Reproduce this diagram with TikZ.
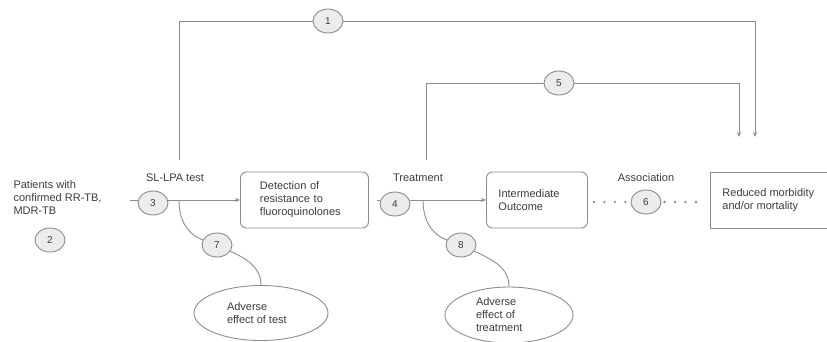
\documentclass[tikz,border=0pt]{standalone}
\usepackage{fontspec}
\setmainfont{Liberation Sans}
\usetikzlibrary{shapes.geometric,arrows.meta}
\definecolor{ln}{HTML}{8C8C8C}
\definecolor{tx}{HTML}{3C3C3C}
\definecolor{cf}{HTML}{ECECEC}
\begin{document}
\begin{tikzpicture}[x=1pt,y=-1pt,
  every node/.style={text=tx, font=\fontsize{11}{13}\selectfont},
  num/.style={ellipse, draw=ln, fill=cf, line width=0.9pt, minimum width=30pt, minimum height=24pt, inner sep=0pt, font=\fontsize{10}{12}\selectfont},
  box/.style={draw=ln, line width=0.9pt, minimum height=56pt, align=left, anchor=west, inner sep=0pt},
  oval/.style={ellipse, draw=ln, line width=0.9pt, align=left, inner sep=0pt},
  lbl/.style={align=left},
  con/.style={draw=ln, line width=0.9pt},
  arr/.style={con, -{Stealth[length=5pt,width=4pt]}},
  dots/.style={draw=ln, line width=2.6pt, line cap=round, dash pattern=on 0pt off 10.5pt}
]
\useasboundingbox (0,0) rectangle (827,341);

% main row
\node[lbl, anchor=west] (pat) at (10,198) {Patients with\\confirmed RR-TB,\\MDR-TB};
\node[num] (c2) at (50,240) {2};
\node[num] (c3) at (153,203) {3};
\node[lbl] (sl) at (175,178) {SL-LPA test};
\node[box, rounded corners=6pt, minimum width=128pt, text width=115pt] (det) at (240,200) {\hspace*{13pt}\parbox{110pt}{Detection of\\resistance to\\fluoroquinolones}};
\node[num] (c4) at (395,204) {4};
\node[lbl] (tr) at (418,178) {Treatment};
\node[box, rounded corners=6pt, minimum width=101pt] (int) at (486,200) {\hspace*{11pt}\parbox{88pt}{Intermediate\\Outcome}};
\node[num] (c6) at (646,202) {6};
\node[lbl] (as) at (646,178) {Association};
\node[box, minimum width=125pt] (red) at (710,200) {\hspace*{9pt}\parbox{110pt}{Reduced morbidity\\and/or mortality}};

% top circles
\node[num] (c1) at (328,21) {1};
\node[num] (c5) at (559,83) {5};

% adverse
\node[num] (c7) at (217,245) {7};
\node[num] (c8) at (461,245) {8};
\node[oval, minimum width=134pt, minimum height=55pt] (e1) at (261,313) {\parbox{68pt}{Adverse\\effect of test}};
\node[oval, minimum width=128pt, minimum height=56pt] (e2) at (509,315) {\parbox{66pt}{Adverse\\effect of\\treatment}};

% coordinates
\coordinate (in3) at (130,200);
\coordinate (in4) at (377,200);
\coordinate (s1) at (179,160);
\coordinate (s5) at (426,160);
\coordinate (t1) at (755,137);
\coordinate (t5) at (739,137);
\coordinate (j3) at (179,200);
\coordinate (j4) at (423,200);

% connectors
\draw[con] (in3) -- (c3.west |- in3);
\draw[arr] (c3.east |- in3) -- (det.west |- in3);
\draw[con] (in4) -- (c4.west |- in4);
\draw[arr] (c4.east |- in4) -- (int.west |- in4);
\draw[dots] ([xshift=6pt]int.east |- c6) -- ([xshift=-3pt]c6.west);
\draw[dots] ([xshift=3pt]c6.east) -- ([xshift=-6pt]red.west |- c6);
\draw[con] (s1) |- (c1);
\draw[arr] (c1) -| (t1);
\draw[con] (s5) |- (c5);
\draw[arr] (c5) -| (t5);
\draw[con] (j3) to[out=-90,in=160] (c7);
\draw[con] (c7) to[out=-25,in=90] (e1.north);
\draw[con] (j4) to[out=-90,in=160] (c8);
\draw[con] (c8) to[out=-25,in=90] (e2.north);
\end{tikzpicture}
\end{document}
